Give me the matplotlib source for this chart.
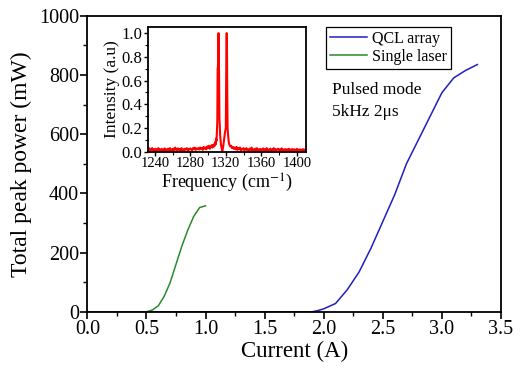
import matplotlib
matplotlib.use('Agg')
import matplotlib.pyplot as plt
from matplotlib.ticker import MultipleLocator

plt.rcParams['font.family'] = ['Liberation Serif', 'DejaVu Serif']
plt.rcParams['mathtext.fontset'] = 'stix'

# 输出功率-电流数据
qcl_current = [0.0, 1.9, 1.95, 2.0, 2.1, 2.2, 2.3, 2.4, 2.5, 2.6, 2.7, 2.8, 2.9, 3.0, 3.1, 3.2, 3.3]
qcl_power = [0, 0, 4, 10, 28, 75, 135, 215, 305, 395, 500, 580, 660, 740, 790, 815, 835]

single_current = [0.0, 0.5, 0.55, 0.6, 0.65, 0.7, 0.75, 0.8, 0.85, 0.9, 0.95, 1.0]
single_power = [0, 0, 6, 20, 52, 98, 160, 222, 276, 322, 352, 358]

# 插图光谱数据
freq = [1232, 1233, 1234, 1235, 1236, 1237, 1238, 1239, 1240, 1241,
        1242, 1243, 1244, 1245, 1246, 1247, 1248, 1249, 1250, 1251,
        1252, 1253, 1254, 1255, 1256, 1257, 1258, 1259, 1260, 1261,
        1262, 1263, 1264, 1265, 1266, 1267, 1268, 1269, 1270, 1271,
        1272, 1273, 1274, 1275, 1276, 1277, 1278, 1279, 1280, 1281,
        1282, 1283, 1284, 1285, 1286, 1287, 1288, 1289, 1290, 1291,
        1292, 1293, 1294, 1295, 1296, 1297, 1298, 1299, 1300, 1301,
        1302, 1303, 1304, 1305, 1306, 1307, 1308, 1308.5, 1309, 1309.5,
        1310, 1310.4, 1310.8, 1311.2, 1311.6, 1312, 1312.4, 1312.8, 1313.2, 1313.6,
        1314, 1314.5, 1315, 1315.5, 1316, 1316.5, 1317, 1317.5, 1318, 1318.5,
        1319, 1319.5, 1320, 1320.4, 1320.8, 1321.2, 1321.6, 1322, 1322.4, 1322.8,
        1323.2, 1323.6, 1324, 1325, 1326, 1327, 1328, 1329, 1330, 1331,
        1332, 1333, 1334, 1335, 1336, 1337, 1338, 1339, 1340, 1341,
        1342, 1343, 1344, 1345, 1346, 1347, 1348, 1349, 1350, 1351,
        1352, 1353, 1354, 1355, 1356, 1357, 1358, 1359, 1360, 1361,
        1362, 1363, 1364, 1365, 1366, 1367, 1368, 1369, 1370, 1371,
        1372, 1373, 1374, 1375, 1376, 1377, 1378, 1379, 1380, 1381,
        1382, 1383, 1384, 1385, 1386, 1387, 1388, 1389, 1390, 1391,
        1392, 1393, 1394, 1395, 1396, 1397, 1398, 1399, 1400, 1401,
        1402, 1403, 1404, 1405, 1406, 1407, 1408, 1409, 1410]
intensity = [0.035, 0.01, 0.028, 0.008, 0.022, 0.03, 0.01, 0.02, 0.012, 0.025,
             0.008, 0.018, 0.03, 0.012, 0.02, 0.006, 0.024, 0.015, 0.01, 0.028,
             0.012, 0.02, 0.008, 0.025, 0.015, 0.03, 0.01, 0.02, 0.014, 0.026,
             0.01, 0.035, 0.02, 0.012, 0.028, 0.015, 0.022, 0.01, 0.03, 0.015,
             0.02, 0.01, 0.025, 0.018, 0.03, 0.012, 0.024, 0.016, 0.028, 0.02,
             0.012, 0.03, 0.02, 0.035, 0.015, 0.028, 0.02, 0.03, 0.018, 0.035,
             0.022, 0.03, 0.015, 0.04, 0.025, 0.035, 0.02, 0.045, 0.03, 0.05,
             0.025, 0.04, 0.055, 0.035, 0.06, 0.045, 0.08, 0.06, 0.11, 0.09,
             0.18, 0.25, 0.7, 0.72, 1.0, 1.0, 0.65, 0.28, 0.22, 0.14,
             0.1, 0.06, 0.04, 0.015, 0.005, 0.02, 0.04, 0.07, 0.1, 0.13,
             0.16, 0.18, 0.2, 0.55, 1.0, 1.0, 0.5, 0.2, 0.15, 0.12,
             0.09, 0.07, 0.06, 0.045, 0.05, 0.03, 0.04, 0.025, 0.035, 0.02,
             0.04, 0.015, 0.03, 0.02, 0.035, 0.012, 0.025, 0.018, 0.03, 0.01,
             0.022, 0.03, 0.012, 0.02, 0.008, 0.026, 0.015, 0.035, 0.012, 0.02,
             0.01, 0.025, 0.015, 0.03, 0.008, 0.02, 0.012, 0.024, 0.01, 0.018,
             0.028, 0.01, 0.02, 0.014, 0.03, 0.008, 0.018, 0.012, 0.025, 0.01,
             0.02, 0.015, 0.03, 0.01, 0.022, 0.012, 0.018, 0.025, 0.008, 0.02,
             0.012, 0.028, 0.01, 0.018, 0.015, 0.022, 0.008, 0.02, 0.012, 0.025,
             0.01, 0.018, 0.014, 0.022, 0.008, 0.02, 0.012, 0.016, 0.024, 0.01,
             0.018, 0.012, 0.02, 0.008, 0.016, 0.022, 0.01, 0.018, 0.014]

fig = plt.figure(figsize=(5.26, 3.69), dpi=100)
ax = fig.add_axes([0.166, 0.155, 0.7865, 0.8025])

ax.plot(qcl_current, qcl_power, color='#1f1fbf', lw=1.1, label='QCL array')
ax.plot(single_current, single_power, color='#2a8a2a', lw=1.1, label='Single laser')

ax.set_xlim(0, 3.5)
ax.set_ylim(0, 1000)
ax.xaxis.set_major_locator(MultipleLocator(0.5))
ax.xaxis.set_minor_locator(MultipleLocator(0.25))
ax.yaxis.set_major_locator(MultipleLocator(200))
ax.yaxis.set_minor_locator(MultipleLocator(100))
ax.xaxis.set_major_formatter(matplotlib.ticker.FormatStrFormatter('%.1f'))
ax.tick_params(which='major', direction='out', length=5, width=1.2, labelsize=14.5, pad=1)
ax.tick_params(which='minor', direction='out', length=3, width=1.0)
for s in ax.spines.values():
    s.set_linewidth(1.3)
ax.set_xlabel('Current (A)', fontsize=16.5, labelpad=1)
ax.set_ylabel('Total peak power (mW)', fontsize=17, labelpad=5)

leg = ax.legend(loc='upper left', bbox_to_anchor=(0.578, 0.963), fontsize=11.5,
                frameon=True, fancybox=False, edgecolor='black', framealpha=1,
                handlelength=2.3, handletextpad=0.3, labelspacing=0.15,
                borderpad=0.25, borderaxespad=0)
leg.get_frame().set_linewidth(0.9)

ax.text(0.592, 0.712, 'Pulsed mode\n5kHz 2μs', transform=ax.transAxes, fontsize=12.5,
        va='center', ha='left', linespacing=1.45)

# 插图
ins = fig.add_axes([0.2808, 0.5889, 0.3004, 0.3388])
ins.plot(freq, intensity, color='red', lw=1.5)
ins.set_xlim(1232, 1410)
ins.set_ylim(0, 1.055)
ins.xaxis.set_major_locator(MultipleLocator(40))
ins.xaxis.set_minor_locator(MultipleLocator(20))
ins.yaxis.set_major_locator(MultipleLocator(0.2))
ins.yaxis.set_minor_locator(MultipleLocator(0.1))
ins.yaxis.set_major_formatter(matplotlib.ticker.FormatStrFormatter('%.1f'))
ins.tick_params(axis='x', which='major', direction='out', length=3, width=1.0, labelsize=10.5, pad=1)
ins.tick_params(axis='y', which='major', direction='out', length=3, width=1.0, labelsize=12, pad=1)
ins.tick_params(which='minor', direction='out', length=2, width=0.8)
for s in ins.spines.values():
    s.set_linewidth(1.3)
ins.set_xlabel('Frequency (cm$^{-1}$)', fontsize=13, labelpad=1)
ins.set_ylabel('Intensity (a.u)', fontsize=12.5, labelpad=1)

fig.savefig('out.png', dpi=100)
